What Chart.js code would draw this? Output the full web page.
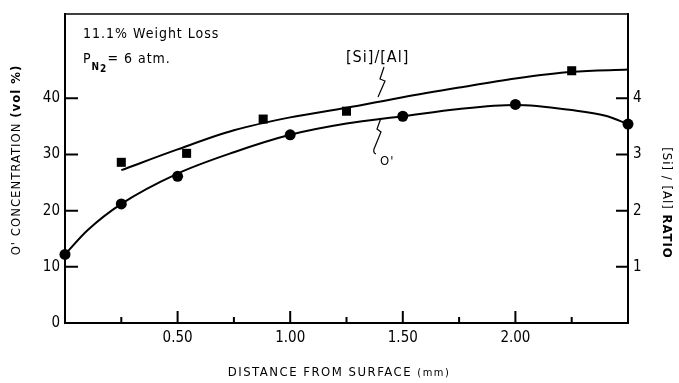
<!DOCTYPE html>
<html>
<head>
<meta charset="utf-8">
<script src="https://cdn.jsdelivr.net/npm/chart.js@4.4.1/dist/chart.umd.min.js"></script>
<style>
html, body { margin: 0; padding: 0; background: #fff; }
</style>
</head>
<body>
<canvas id="grafica" width="679" height="383"></canvas>
<script>
// measured points
const distO = [0, 0.25, 0.5, 1.0, 1.5, 2.0, 2.5];
const concO = [12.2, 21.2, 26.1, 33.5, 36.8, 38.9, 35.4];
const distSi = [0.25, 0.54, 0.88, 1.25, 2.25];
const ratioSi = [2.86, 3.02, 3.63, 3.77, 4.49];

// hand drawn fit curves
const curvaDistO = [0, 0.1, 0.25, 0.5, 0.75, 1.0, 1.25, 1.5, 1.75, 2.0, 2.25, 2.4, 2.5];
const curvaConcO = [12.2, 16.5, 21.2, 26.6, 30.4, 33.5, 35.5, 36.8, 38.1, 38.8, 37.9, 36.9, 35.4];
const curvaDistSi = [0.25, 0.5, 0.75, 1.0, 1.25, 1.5, 1.75, 2.0, 2.25, 2.5];
const curvaRatioSi = [2.72, 3.09, 3.43, 3.66, 3.83, 4.02, 4.19, 4.35, 4.47, 4.51];

const xEtiquetas = [0.5, 1.0, 1.5, 2.0];
const yEtiquetas = [0, 10, 20, 30, 40];
const ratioEtiquetas = [1, 2, 3, 4];

const FUENTE = "'Liberation Sans Narrow', 'DejaVu Sans Condensed', sans-serif";
const pares = (xs, ys) => xs.map((x, i) => ({ x: x, y: ys[i] }));

function texto(ctx, partes, x, y, align) {
    // partes: [[texto, font, dy], ...] drawn one after another
    let total = 0;
    partes.forEach(p => { ctx.font = p[1]; total += ctx.measureText(p[0]).width; });
    let cx = align === 'center' ? x - total / 2 : x;
    ctx.textAlign = 'left';
    partes.forEach(p => {
        ctx.font = p[1];
        ctx.fillText(p[0], cx, y + (p[2] || 0));
        cx += ctx.measureText(p[0]).width;
    });
}

const decoracion = {
    id: 'decoracion',
    afterDraw(chart) {
        const ctx = chart.ctx;
        const a = chart.chartArea;
        const sx = chart.scales.x, sy = chart.scales.y, sr = chart.scales.y2;
        ctx.save();
        ctx.strokeStyle = '#000';
        ctx.fillStyle = '#000';

        // top of frame
        ctx.lineWidth = 1.5;
        ctx.beginPath();
        ctx.moveTo(a.left, a.top);
        ctx.lineTo(a.right, a.top);
        ctx.stroke();

        // inside ticks
        ctx.lineWidth = 2;
        ctx.beginPath();
        for (let v = 0.25; v < 2.5; v += 0.25) {
            const px = sx.getPixelForValue(v);
            const largo = xEtiquetas.includes(v) ? 12 : 6;
            ctx.moveTo(px, a.bottom);
            ctx.lineTo(px, a.bottom - largo);
        }
        [10, 20, 30, 40].forEach(v => {
            const py = sy.getPixelForValue(v);
            ctx.moveTo(a.left, py);
            ctx.lineTo(a.left + 13, py);
        });
        ratioEtiquetas.forEach(v => {
            const py = sr.getPixelForValue(v);
            ctx.moveTo(a.right, py);
            ctx.lineTo(a.right - 12, py);
        });
        ctx.stroke();

        ctx.letterSpacing = '1px';
        ctx.textBaseline = 'middle';
        texto(ctx, [['11.1% Weight Loss', '14px ' + FUENTE]], 83, 34);
        texto(ctx, [['P', '14px ' + FUENTE], ['N', 'bold 10px ' + FUENTE, 8], ['2', 'bold 10px ' + FUENTE, 10],
                    ['= 6 atm.', '14px ' + FUENTE]], 83, 59);
        texto(ctx, [['[Si]/[Al]', '16px ' + FUENTE]], 346, 58);
        texto(ctx, [["O'", '13px ' + FUENTE]], 380, 162);

        // leaders
        ctx.lineWidth = 1.2;
        ctx.beginPath();
        ctx.moveTo(384, 67); ctx.lineTo(380, 79); ctx.lineTo(385, 81); ctx.lineTo(378, 97);
        ctx.moveTo(381, 118); ctx.lineTo(377, 129); ctx.lineTo(381, 132); ctx.lineTo(374, 149);
        ctx.quadraticCurveTo(373, 153, 376, 154);
        ctx.stroke();

        // axis titles
        ctx.letterSpacing = '1px';
        ctx.save();
        ctx.translate(17, 160);
        ctx.rotate(-Math.PI / 2);
        texto(ctx, [["O' CONCENTRATION ", '13px ' + FUENTE], ['(vol %)', 'bold 13px ' + FUENTE]], 0, 0, 'center');
        ctx.restore();
        ctx.save();
        ctx.translate(666, 203);
        ctx.rotate(Math.PI / 2);
        texto(ctx, [['[Si] / [Al] ', '13px ' + FUENTE], ['RATIO', 'bold 13px ' + FUENTE]], 0, 0, 'center');
        ctx.restore();
        ctx.letterSpacing = '1.5px';
        texto(ctx, [['DISTANCE FROM SURFACE ', '13px ' + FUENTE], ['(mm)', '11px ' + FUENTE]], 339, 373, 'center');
        ctx.restore();
    }
};

const ejeFuente = { family: FUENTE, size: 15 };

new Chart(document.getElementById('grafica').getContext('2d'), {
    type: 'scatter',
    data: {
        datasets: [
            {
                data: pares(curvaDistO, curvaConcO), yAxisID: 'y', showLine: true,
                borderColor: '#000', borderWidth: 2, pointRadius: 0,
                cubicInterpolationMode: 'monotone'
            },
            {
                data: pares(curvaDistSi, curvaRatioSi), yAxisID: 'y2', showLine: true,
                borderColor: '#000', borderWidth: 2, pointRadius: 0,
                cubicInterpolationMode: 'monotone'
            },
            {
                data: pares(distO, concO), yAxisID: 'y', pointStyle: 'circle', pointRadius: 5.5,
                backgroundColor: '#000', borderColor: '#000', borderWidth: 0, clip: false
            },
            {
                data: pares(distSi, ratioSi), yAxisID: 'y2', pointStyle: 'rect', pointRadius: 6.4,
                backgroundColor: '#000', borderColor: '#000', borderWidth: 0, clip: false
            }
        ]
    },
    options: {
        responsive: false,
        animation: false,
        layout: { padding: { top: 10, left: 0, right: 0, bottom: 0 } },
        plugins: { legend: { display: false }, tooltip: { enabled: false } },
        scales: {
            x: {
                type: 'linear', min: 0, max: 2.5,
                grid: { display: false, drawTicks: false },
                border: { display: true, color: '#000', width: 2 },
                ticks: {
                    stepSize: 0.25, autoSkip: false, maxRotation: 0, padding: 6,
                    color: '#000', font: ejeFuente,
                    callback: v => xEtiquetas.includes(v) ? v.toFixed(2) : ''
                },
                afterFit: s => { s.height = 60; }
            },
            y: {
                position: 'left', min: 0, max: 55,
                grid: { display: false, drawTicks: false },
                border: { display: true, color: '#000', width: 2 },
                ticks: {
                    stepSize: 10, padding: 5, color: '#000', font: ejeFuente,
                    callback: v => yEtiquetas.includes(v) ? v : ''
                },
                afterFit: s => { s.width = 65; }
            },
            y2: {
                position: 'right', min: 0, max: 5.5,
                grid: { display: false, drawTicks: false },
                border: { display: true, color: '#000', width: 2 },
                ticks: {
                    stepSize: 1, padding: 5, color: '#000', font: ejeFuente,
                    callback: v => ratioEtiquetas.includes(v) ? v : ''
                },
                afterFit: s => { s.width = 51; }
            }
        }
    },
    plugins: [decoracion]
});
</script>
</body>
</html>
